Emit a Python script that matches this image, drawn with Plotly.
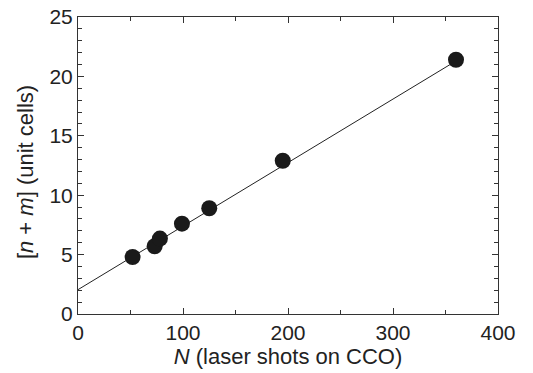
import plotly.graph_objects as go

shots_N = [52, 73, 78, 99, 125, 195, 360]
unit_cells = [4.8, 5.7, 6.35, 7.6, 8.9, 12.9, 21.4]
fit_x = [0, 360]
fit_y = [2.05, 21.3]
x_ticks = [0, 100, 200, 300, 400]
y_ticks = [0, 5, 10, 15, 20, 25]

font_family = "Liberation Sans, Arial, Helvetica, sans-serif"

fig = go.Figure()
fig.add_trace(go.Scatter(x=fit_x, y=fit_y, mode="lines",
                         line=dict(color="#222", width=1), showlegend=False))
fig.add_trace(go.Scatter(x=shots_N, y=unit_cells, mode="markers",
                         marker=dict(color="#1a1a1a", size=16), showlegend=False))

axis_common = dict(showline=True, linecolor="#333", linewidth=1, mirror="ticks",
                   ticks="inside", ticklen=6, tickcolor="#333", showgrid=False,
                   zeroline=False, automargin=False,
                   tickfont=dict(family=font_family, size=21, color="#222"))

fig.update_xaxes(range=[0, 400], tickvals=x_ticks,
                 minor=dict(ticks="inside", ticklen=4, dtick=50, tickcolor="#333"),
                 title=dict(text="<i>N</i> (laser shots on CCO)", standoff=2,
                            font=dict(family=font_family, size=22, color="#222")),
                 **axis_common)
fig.update_yaxes(range=[0, 25], tickvals=y_ticks,
                 minor=dict(ticks="inside", ticklen=4, dtick=1, tickcolor="#333"),
                 **axis_common)

fig.add_annotation(text="[<i>n</i> + <i>m</i>] (unit cells)", xref="paper", yref="paper",
                   x=-0.126, y=0.478, xanchor="center", yanchor="middle", textangle=-90,
                   showarrow=False, font=dict(family=font_family, size=22, color="#222"))

fig.update_layout(width=533, height=373, margin=dict(l=78, r=35, t=17, b=59, autoexpand=False),
                  plot_bgcolor="white", paper_bgcolor="white")

fig.write_html("out.html")
